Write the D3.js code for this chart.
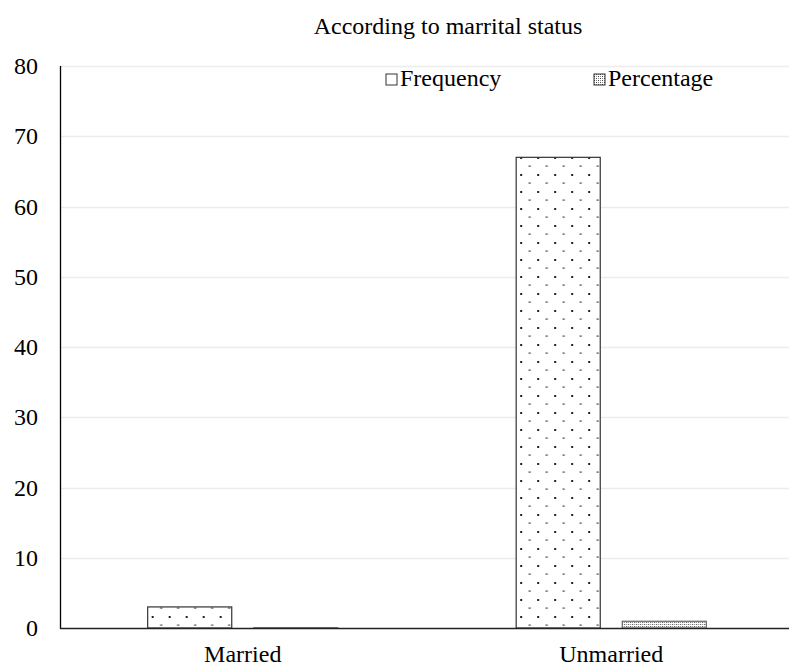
<!DOCTYPE html>
<html>
<head>
<meta charset="utf-8">
<script src="https://cdn.jsdelivr.net/npm/d3@7"></script>
<style>
  html, body { margin: 0; padding: 0; background: #fff; }
  svg { display: block; font-family: "Liberation Serif", "Times New Roman", serif; }
</style>
</head>
<body>
<svg id="chart" width="789" height="666"></svg>
<script>
// Marital status breakdown: counts and proportions
const categories = ["Married", "Unmarried"];
const seriesNames = ["Frequency", "Percentage"];
const frequencyValues = [3, 67];
const percentageValues = [0.04, 0.96];
const yTicks = [0, 10, 20, 30, 40, 50, 60, 70, 80];
const chartTitle = "According to marrital status";

const svg = d3.select("#chart");
const width = 789, height = 666;
const margin = { left: 60, top: 66, bottom: 38 };
const plotBottom = height - margin.bottom;

const defs = svg.append("defs");

// Sparse staggered dot fill
const dots = defs.append("pattern")
  .attr("id", "fill-dots")
  .attr("patternUnits", "userSpaceOnUse")
  .attr("width", 17).attr("height", 17);
dots.append("rect").attr("width", 17).attr("height", 17).attr("fill", "#fff");
dots.append("rect").attr("x", 4).attr("y", 4).attr("width", 2).attr("height", 2).attr("fill", "#222");
dots.append("rect").attr("x", 12.5).attr("y", 12.5).attr("width", 2).attr("height", 1.2).attr("fill", "#333");

// Dense checker fill
const checks = defs.append("pattern")
  .attr("id", "fill-checks")
  .attr("patternUnits", "userSpaceOnUse")
  .attr("width", 4).attr("height", 4);
checks.append("rect").attr("width", 4).attr("height", 4).attr("fill", "#fff");
checks.append("rect").attr("x", 0).attr("y", 0).attr("width", 1).attr("height", 1).attr("fill", "#444");
checks.append("rect").attr("x", 2).attr("y", 2).attr("width", 1).attr("height", 1).attr("fill", "#444");
checks.append("rect").attr("x", 2).attr("y", 0).attr("width", 1).attr("height", 1).attr("fill", "#888");
checks.append("rect").attr("x", 0).attr("y", 2).attr("width", 1).attr("height", 1).attr("fill", "#888");

const seriesFill = { Frequency: "url(#fill-dots)", Percentage: "url(#fill-checks)" };

const y = d3.scaleLinear().domain([0, 80]).range([plotBottom, margin.top]);
const x0 = d3.scaleBand()
  .domain(categories)
  .range([58.5, 795.5])
  .paddingInner(0.484)
  .paddingOuter(0.242);
const x1 = d3.scaleBand()
  .domain(seriesNames)
  .range([0, x0.bandwidth()])
  .paddingInner(0.2075);

// Horizontal gridlines
svg.append("g")
  .selectAll("line")
  .data(yTicks.filter(d => d > 0))
  .join("line")
  .attr("x1", margin.left).attr("x2", width)
  .attr("y1", d => Math.round(y(d)) + 0.5)
  .attr("y2", d => Math.round(y(d)) + 0.5)
  .attr("stroke", "#ececec")
  .attr("stroke-width", 1.5);

// Y axis labels
const yAxis = d3.axisLeft(y).tickValues(yTicks).tickSize(0).tickPadding(22);
svg.append("g")
  .attr("transform", `translate(${margin.left},0)`)
  .call(yAxis)
  .call(g => g.select(".domain").remove())
  .selectAll("text")
  .attr("font-size", 24)
  .attr("font-family", "Liberation Serif")
  .attr("fill", "#000");

// Bars
const rows = categories.map((c, i) => ({
  category: c,
  values: [
    { series: "Frequency", value: frequencyValues[i] },
    { series: "Percentage", value: percentageValues[i] }
  ]
}));

svg.append("g")
  .selectAll("g")
  .data(rows)
  .join("g")
  .attr("transform", d => `translate(${x0(d.category)},0)`)
  .selectAll("rect")
  .data(d => d.values)
  .join("rect")
  .attr("x", d => x1(d.series))
  .attr("width", x1.bandwidth())
  .attr("y", d => y(d.value))
  .attr("height", d => y(0) - y(d.value))
  .attr("fill", d => seriesFill[d.series])
  .attr("stroke", d => d.series === "Frequency" ? "#333" : "#666")
  .attr("stroke-width", 1.2);

// Axis lines
svg.append("line")
  .attr("x1", margin.left + 0.5).attr("x2", margin.left + 0.5)
  .attr("y1", margin.top).attr("y2", plotBottom + 1)
  .attr("stroke", "#000").attr("stroke-width", 1.3);
svg.append("line")
  .attr("x1", margin.left).attr("x2", width)
  .attr("y1", plotBottom + 0.5).attr("y2", plotBottom + 0.5)
  .attr("stroke", "#222").attr("stroke-width", 1.3);

// Category labels
const xAxis = d3.axisBottom(x0).tickSize(0).tickPadding(17);
svg.append("g")
  .attr("transform", `translate(0,${plotBottom})`)
  .call(xAxis)
  .call(g => g.select(".domain").remove())
  .selectAll("text")
  .attr("font-size", 24)
  .attr("font-family", "Liberation Serif")
  .attr("fill", "#000");

// Title
svg.append("text")
  .attr("x", 448).attr("y", 28)
  .attr("text-anchor", "middle")
  .attr("dominant-baseline", "middle")
  .attr("font-size", 24)
  .attr("fill", "#000")
  .text(chartTitle);

// Legend
const legendX = [386, 594];
const legend = svg.append("g")
  .selectAll("g")
  .data(seriesNames)
  .join("g")
  .attr("transform", (d, i) => `translate(${legendX[i]},80)`);
legend.append("rect")
  .attr("x", 0).attr("y", -6)
  .attr("width", 11).attr("height", 11)
  .attr("fill", d => d === "Frequency" ? "#fff" : seriesFill[d])
  .attr("stroke", "#333").attr("stroke-width", 1);
legend.append("text")
  .attr("x", 14).attr("y", 0)
  .attr("dominant-baseline", "middle")
  .attr("font-size", 24)
  .attr("fill", "#000")
  .text(d => d);
</script>
</body>
</html>
